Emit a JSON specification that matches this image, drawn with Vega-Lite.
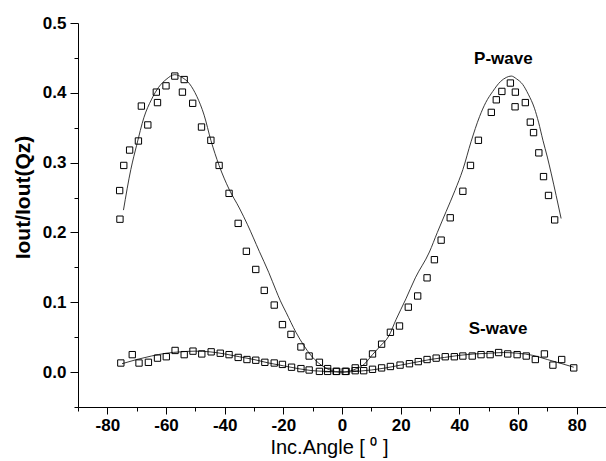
{
  "$schema": "https://vega.github.io/schema/vega-lite/v6.json",
  "width": 528,
  "height": 384,
  "autosize": "none",
  "padding": {"left": 78, "top": 23, "right": 0, "bottom": 54},
  "background": "white",
  "config": {
    "view": {"stroke": null},
    "axis": {"grid": false, "domainColor": "#000", "tickColor": "#000", "labelColor": "#000", "titleColor": "#000", "labelFont": "Liberation Sans", "titleFont": "Liberation Sans", "domainWidth": 1, "tickWidth": 1}
  },
  "datasets": {
    "points": [
      {"s":"P","x":-75.7,"y":0.219},{"s":"P","x":-75.8,"y":0.260},{"s":"P","x":-74.4,"y":0.296},{"s":"P","x":-72.4,"y":0.318},
      {"s":"P","x":-69.4,"y":0.331},{"s":"P","x":-66.2,"y":0.354},{"s":"P","x":-68.4,"y":0.381},{"s":"P","x":-62.9,"y":0.386},
      {"s":"P","x":-63.3,"y":0.401},{"s":"P","x":-60.0,"y":0.410},{"s":"P","x":-57.0,"y":0.424},{"s":"P","x":-53.8,"y":0.419},
      {"s":"P","x":-54.4,"y":0.401},{"s":"P","x":-50.9,"y":0.385},{"s":"P","x":-47.9,"y":0.351},{"s":"P","x":-44.7,"y":0.332},
      {"s":"P","x":-41.9,"y":0.296},{"s":"P","x":-38.5,"y":0.256},{"s":"P","x":-35.4,"y":0.213},{"s":"P","x":-32.6,"y":0.173},
      {"s":"P","x":-29.4,"y":0.147},{"s":"P","x":-26.5,"y":0.117},{"s":"P","x":-23.1,"y":0.096},{"s":"P","x":-20.3,"y":0.068},
      {"s":"P","x":-17.4,"y":0.054},{"s":"P","x":-14.0,"y":0.036},{"s":"P","x":-11.2,"y":0.023},{"s":"P","x":-7.7,"y":0.014},
      {"s":"P","x":-4.9,"y":0.005},{"s":"P","x":-2.0,"y":0.001},{"s":"P","x":1.1,"y":0.001},
      {"s":"P","x":4.5,"y":0.006},{"s":"P","x":7.4,"y":0.014},{"s":"P","x":10.4,"y":0.026},{"s":"P","x":13.5,"y":0.040},
      {"s":"P","x":16.5,"y":0.057},{"s":"P","x":19.6,"y":0.066},{"s":"P","x":22.6,"y":0.093},{"s":"P","x":25.8,"y":0.109},
      {"s":"P","x":29.0,"y":0.135},{"s":"P","x":31.5,"y":0.161},{"s":"P","x":33.8,"y":0.189},{"s":"P","x":36.9,"y":0.221},
      {"s":"P","x":41.2,"y":0.259},{"s":"P","x":43.8,"y":0.296},{"s":"P","x":46.5,"y":0.332},{"s":"P","x":50.9,"y":0.372},
      {"s":"P","x":52.6,"y":0.390},{"s":"P","x":54.5,"y":0.402},{"s":"P","x":57.4,"y":0.414},{"s":"P","x":59.1,"y":0.401},
      {"s":"P","x":59.0,"y":0.380},{"s":"P","x":62.5,"y":0.386},{"s":"P","x":64.2,"y":0.358},{"s":"P","x":65.3,"y":0.343},
      {"s":"P","x":67.1,"y":0.314},{"s":"P","x":68.7,"y":0.280},{"s":"P","x":70.4,"y":0.253},{"s":"P","x":72.5,"y":0.218},
      {"s":"S","x":-75.4,"y":0.013},{"s":"S","x":-71.5,"y":0.025},{"s":"S","x":-69.2,"y":0.013},{"s":"S","x":-66.0,"y":0.014},
      {"s":"S","x":-62.9,"y":0.020},{"s":"S","x":-59.9,"y":0.022},{"s":"S","x":-56.9,"y":0.031},{"s":"S","x":-53.8,"y":0.025},
      {"s":"S","x":-50.8,"y":0.030},{"s":"S","x":-47.8,"y":0.026},{"s":"S","x":-44.6,"y":0.029},{"s":"S","x":-41.5,"y":0.027},
      {"s":"S","x":-38.5,"y":0.025},{"s":"S","x":-35.4,"y":0.021},{"s":"S","x":-32.4,"y":0.018},{"s":"S","x":-29.4,"y":0.017},
      {"s":"S","x":-26.3,"y":0.014},{"s":"S","x":-23.1,"y":0.013},{"s":"S","x":-20.3,"y":0.011},{"s":"S","x":-17.2,"y":0.007},
      {"s":"S","x":-14.0,"y":0.005},{"s":"S","x":-11.2,"y":0.003},{"s":"S","x":-7.7,"y":0.001},{"s":"S","x":-4.9,"y":0.001},
      {"s":"S","x":-1.8,"y":0.001},{"s":"S","x":1.4,"y":0.001},{"s":"S","x":4.5,"y":0.002},{"s":"S","x":7.4,"y":0.002},
      {"s":"S","x":10.4,"y":0.004},{"s":"S","x":13.5,"y":0.006},{"s":"S","x":16.5,"y":0.008},{"s":"S","x":19.8,"y":0.010},
      {"s":"S","x":23.0,"y":0.012},{"s":"S","x":26.0,"y":0.015},{"s":"S","x":29.0,"y":0.018},{"s":"S","x":32.1,"y":0.020},
      {"s":"S","x":35.2,"y":0.022},{"s":"S","x":38.3,"y":0.022},{"s":"S","x":41.2,"y":0.023},{"s":"S","x":44.4,"y":0.023},
      {"s":"S","x":47.4,"y":0.025},{"s":"S","x":50.5,"y":0.025},{"s":"S","x":53.4,"y":0.028},{"s":"S","x":56.5,"y":0.026},
      {"s":"S","x":59.7,"y":0.025},{"s":"S","x":62.8,"y":0.023},{"s":"S","x":65.9,"y":0.018},{"s":"S","x":69.0,"y":0.026},
      {"s":"S","x":71.9,"y":0.010},{"s":"S","x":74.9,"y":0.018},{"s":"S","x":79.0,"y":0.006}
    ],
    "fits": [
      {"s":"P","x":-74.5,"y":0.232},{"s":"P","x":-72,"y":0.29},{"s":"P","x":-70,"y":0.325},{"s":"P","x":-67.5,"y":0.365},
      {"s":"P","x":-65,"y":0.39},{"s":"P","x":-62.5,"y":0.408},{"s":"P","x":-60,"y":0.419},{"s":"P","x":-57,"y":0.426},
      {"s":"P","x":-54.5,"y":0.422},{"s":"P","x":-52,"y":0.413},{"s":"P","x":-49.5,"y":0.395},{"s":"P","x":-47,"y":0.368},
      {"s":"P","x":-44.7,"y":0.332},{"s":"P","x":-41.9,"y":0.296},{"s":"P","x":-38.5,"y":0.262},{"s":"P","x":-35,"y":0.235},
      {"s":"P","x":-32.2,"y":0.211},{"s":"P","x":-28.2,"y":0.173},{"s":"P","x":-25,"y":0.143},{"s":"P","x":-22.5,"y":0.117},
      {"s":"P","x":-21,"y":0.102},{"s":"P","x":-19,"y":0.085},{"s":"P","x":-15.7,"y":0.057},{"s":"P","x":-13,"y":0.038},
      {"s":"P","x":-10.6,"y":0.024},{"s":"P","x":-8,"y":0.013},{"s":"P","x":-6,"y":0.007},{"s":"P","x":-3.5,"y":0.002},
      {"s":"P","x":-1,"y":0.0003},{"s":"P","x":1,"y":0.0003},{"s":"P","x":3,"y":0.002},{"s":"P","x":5,"y":0.005},
      {"s":"P","x":7.5,"y":0.011},{"s":"P","x":10.4,"y":0.025},{"s":"P","x":13,"y":0.037},{"s":"P","x":16,"y":0.052},
      {"s":"P","x":18.4,"y":0.075},{"s":"P","x":21.8,"y":0.105},{"s":"P","x":25,"y":0.135},{"s":"P","x":29.8,"y":0.172},
      {"s":"P","x":32.5,"y":0.2},{"s":"P","x":35.5,"y":0.23},{"s":"P","x":38.5,"y":0.26},{"s":"P","x":41.2,"y":0.29},
      {"s":"P","x":44,"y":0.33},{"s":"P","x":46.9,"y":0.366},{"s":"P","x":49,"y":0.386},{"s":"P","x":51.4,"y":0.402},
      {"s":"P","x":54,"y":0.416},{"s":"P","x":56,"y":0.422},{"s":"P","x":57.7,"y":0.424},{"s":"P","x":59.5,"y":0.42},
      {"s":"P","x":61.6,"y":0.412},{"s":"P","x":63.5,"y":0.398},{"s":"P","x":65.6,"y":0.378},{"s":"P","x":67,"y":0.358},
      {"s":"P","x":68.5,"y":0.332},{"s":"P","x":70,"y":0.308},{"s":"P","x":71.3,"y":0.285},{"s":"P","x":73,"y":0.253},
      {"s":"P","x":74.7,"y":0.22},
      {"s":"S","x":-75,"y":0.012},{"s":"S","x":-70,"y":0.018},{"s":"S","x":-65,"y":0.023},{"s":"S","x":-60,"y":0.027},
      {"s":"S","x":-55,"y":0.029},{"s":"S","x":-50,"y":0.030},{"s":"S","x":-45,"y":0.029},{"s":"S","x":-40,"y":0.026},
      {"s":"S","x":-35,"y":0.022},{"s":"S","x":-30,"y":0.018},{"s":"S","x":-25,"y":0.013},{"s":"S","x":-20,"y":0.009},
      {"s":"S","x":-15,"y":0.005},{"s":"S","x":-10,"y":0.002},{"s":"S","x":-5,"y":0.001},{"s":"S","x":0,"y":0.0},
      {"s":"S","x":5,"y":0.001},{"s":"S","x":10,"y":0.003},{"s":"S","x":15,"y":0.006},{"s":"S","x":20,"y":0.010},
      {"s":"S","x":25,"y":0.014},{"s":"S","x":30,"y":0.018},{"s":"S","x":35,"y":0.021},{"s":"S","x":40,"y":0.024},
      {"s":"S","x":45,"y":0.026},{"s":"S","x":50,"y":0.027},{"s":"S","x":55,"y":0.028},{"s":"S","x":60,"y":0.027},
      {"s":"S","x":65,"y":0.024},{"s":"S","x":70,"y":0.018},{"s":"S","x":75,"y":0.012},{"s":"S","x":79,"y":0.007}
    ],
    "labels": [
      {"t":"P-wave","x":55,"y":0.449},
      {"t":"S-wave","x":53.2,"y":0.062}
    ]
  },
  "resolve": {"axis": {"x": "independent", "y": "independent"}},
  "layer": [
    {
      "data": {"name": "fits"},
      "mark": {"type": "line", "color": "#222", "strokeWidth": 0.9, "interpolate": "monotone"},
      "encoding": {
        "x": {
          "field": "x", "type": "quantitative",
          "scale": {"domain": [-90, 90], "nice": false, "zero": false},
          "axis": {
            "orient": "bottom",
            "values": [-80,-60,-40,-20,0,20,40,60,80],
            "labelExpr": "'' + datum.value",
            "tickSize": 7,
            "labelFontSize": 17, "labelFontWeight": "bold", "labelPadding": 3, "labelFlush": false,
            "title": "Inc.Angle [ ⁰ ]", "titleFontSize": 20, "titleFontWeight": "normal",
            "titleX": 251, "titleY": 46, "titleBaseline": "alphabetic", "titleAlign": "center"
          }
        },
        "y": {
          "field": "y", "type": "quantitative",
          "scale": {"domain": [-0.05, 0.5], "nice": false, "zero": false},
          "axis": {
            "orient": "left",
            "values": [0,0.1,0.2,0.3,0.4,0.5],
            "format": ".1f",
            "tickSize": 8,
            "labelFontSize": 17, "labelFontWeight": "bold", "labelPadding": 4, "labelFlush": false,
            "title": "Iout/Iout(Qz)", "titleFontSize": 21, "titleFontWeight": "bold",
            "titleAngle": 270, "titleX": -55, "titleY": 174, "titleBaseline": "middle", "titleAlign": "center"
          }
        },
        "detail": {"field": "s"}
      }
    },
    {
      "data": {"name": "points"},
      "mark": {"type": "point", "shape": "square", "filled": false, "size": 40, "color": "#000", "strokeWidth": 1, "opacity": 1},
      "encoding": {
        "x": {"field": "x", "type": "quantitative",
          "axis": {"orient": "bottom", "values": [-90,-70,-50,-30,-10,10,30,50,70,90], "labels": false, "tickSize": 4, "domain": false, "title": null}},
        "y": {"field": "y", "type": "quantitative",
          "axis": {"orient": "left", "values": [-0.05,0.05,0.15,0.25,0.35,0.45], "labels": false, "tickSize": 4, "domain": false, "title": null}}
      }
    },
    {
      "data": {"name": "labels"},
      "mark": {"type": "text", "fontWeight": "bold", "fontSize": 17, "font": "Liberation Sans", "color": "#000"},
      "encoding": {
        "x": {"field": "x", "type": "quantitative", "axis": null},
        "y": {"field": "y", "type": "quantitative", "axis": null},
        "text": {"field": "t"}
      }
    }
  ]
}
